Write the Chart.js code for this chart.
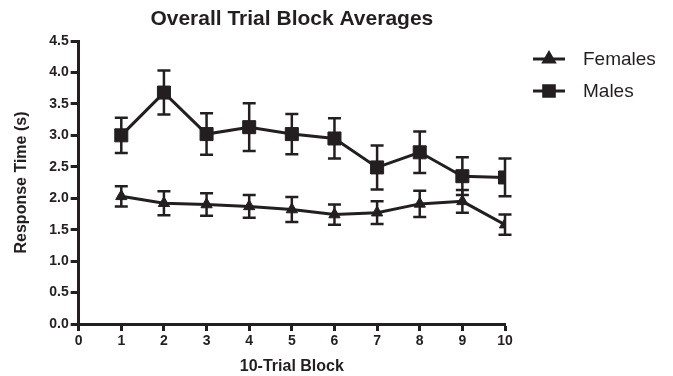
<!DOCTYPE html>
<html>
<head>
<meta charset="utf-8">
<script src="https://cdn.jsdelivr.net/npm/chart.js@4/dist/chart.umd.min.js"></script>
<style>
    html, body { margin: 0; padding: 0; background: #fff; }
</style>
</head>
<body>
<canvas id="trialChart" width="673" height="376"></canvas>
<script>
const blocks = [1, 2, 3, 4, 5, 6, 7, 8, 9, 10];
const femaleMeans = [2.03, 1.92, 1.90, 1.87, 1.82, 1.74, 1.77, 1.91, 1.95, 1.58];
const femaleErrors = [0.16, 0.19, 0.18, 0.18, 0.20, 0.16, 0.18, 0.21, 0.18, 0.16];
const maleMeans = [3.00, 3.68, 3.02, 3.13, 3.02, 2.95, 2.49, 2.73, 2.35, 2.33];
const maleErrors = [0.28, 0.35, 0.33, 0.38, 0.32, 0.32, 0.35, 0.33, 0.30, 0.30];
const seriesNames = ['Females', 'Males'];
const chartTitle = 'Overall Trial Block Averages';
const yTitle = 'Response Time (s)';
const xTitle = '10-Trial Block';

(function () {
    const ink = '#231f20';
    const fontFamily = '"Liberation Sans", Arial, Helvetica, sans-serif';

    const points = (means) => blocks.map((b, i) => ({ x: b, y: means[i] }));

    // vertical error bars with caps, drawn under the lines and markers
    const errorBars = {
        id: 'errorBars',
        beforeDatasetsDraw(chart) {
            const ctx = chart.ctx;
            const ys = chart.scales.y;
            chart.data.datasets.forEach((ds, i) => {
                const meta = chart.getDatasetMeta(i);
                meta.data.forEach((pt, j) => {
                    const m = ds.data[j].y;
                    const e = ds.errors[j];
                    const top = ys.getPixelForValue(m + e);
                    const bot = ys.getPixelForValue(m - e);
                    ctx.save();
                    ctx.strokeStyle = ink;
                    ctx.lineWidth = 2.5;
                    ctx.beginPath();
                    ctx.moveTo(pt.x, top);
                    ctx.lineTo(pt.x, bot);
                    ctx.moveTo(pt.x - 6.5, top);
                    ctx.lineTo(pt.x + 6.5, top);
                    ctx.moveTo(pt.x - 6.5, bot);
                    ctx.lineTo(pt.x + 6.5, bot);
                    ctx.stroke();
                    ctx.restore();
                });
            });
        }
    };

    const titleAndLegend = {
        id: 'titleAndLegend',
        afterDraw(chart) {
            const ctx = chart.ctx;
            const area = chart.chartArea;
            ctx.save();
            ctx.fillStyle = ink;
            ctx.font = 'bold 21px ' + fontFamily;
            ctx.textAlign = 'center';
            ctx.textBaseline = 'middle';
            ctx.fillText(chartTitle, (area.left + area.right) / 2, 19);

            ctx.font = '19px ' + fontFamily;
            ctx.textAlign = 'left';
            chart.data.datasets.forEach((ds, i) => {
                const y = 59 + i * 32;
                const x0 = area.right + 28;
                ctx.strokeStyle = ink;
                ctx.lineWidth = 3;
                ctx.beginPath();
                ctx.moveTo(x0, y);
                ctx.lineTo(x0 + 32, y);
                ctx.stroke();
                Chart.helpers.drawPoint(ctx, {
                    pointStyle: ds.pointStyle,
                    radius: ds.legendRadius,
                    borderWidth: 1,
                    rotation: 0
                }, x0 + 16, y);
                ctx.fillStyle = ink;
                ctx.fill();
                ctx.fillText(ds.label, x0 + 50, y + 1);
            });
            ctx.restore();
        }
    };

    const common = {
        borderColor: ink,
        backgroundColor: ink,
        pointBackgroundColor: ink,
        pointBorderColor: ink,
        pointBorderWidth: 1,
        borderWidth: 3,
        tension: 0
    };

    new Chart(document.getElementById('trialChart'), {
        type: 'line',
        data: {
            datasets: [
                Object.assign({ label: seriesNames[0], data: points(femaleMeans), errors: femaleErrors, pointStyle: 'triangle', pointRadius: 6.5, legendRadius: 6 }, common),
                Object.assign({ label: seriesNames[1], data: points(maleMeans), errors: maleErrors, pointStyle: 'rect', pointRadius: 9.2, legendRadius: 7.5 }, common)
            ]
        },
        plugins: [errorBars, titleAndLegend],
        options: {
            responsive: false,
            animation: false,
            devicePixelRatio: 1,
            layout: { padding: { top: 41, right: 168, left: 12, bottom: 0 } },
            plugins: {
                legend: { display: false },
                tooltip: { enabled: false }
            },
            scales: {
                x: {
                    type: 'linear',
                    min: 0,
                    max: 10,
                    ticks: {
                        stepSize: 1,
                        color: ink,
                        padding: 2,
                        maxRotation: 0,
                        font: { family: fontFamily, size: 14, weight: 'bold' }
                    },
                    grid: { drawOnChartArea: false, drawTicks: true, tickLength: 7, tickColor: ink, tickWidth: 3 },
                    border: { color: ink, width: 3 },
                    title: {
                        display: true,
                        text: xTitle,
                        color: ink,
                        padding: { top: 5, bottom: 0 },
                        font: { family: fontFamily, size: 16, weight: 'bold' }
                    }
                },
                y: {
                    min: 0,
                    max: 4.5,
                    ticks: {
                        stepSize: 0.5,
                        color: ink,
                        padding: 2,
                        callback: (v) => Number(v).toFixed(1),
                        font: { family: fontFamily, size: 14, weight: 'bold' }
                    },
                    grid: { drawOnChartArea: false, drawTicks: true, tickLength: 8, tickColor: ink, tickWidth: 3 },
                    border: { color: ink, width: 3 },
                    title: {
                        display: true,
                        text: yTitle,
                        color: ink,
                        padding: { top: 0, bottom: 16 },
                        font: { family: fontFamily, size: 16, weight: 'bold' }
                    }
                }
            }
        }
    });
})();
</script>
</body>
</html>
